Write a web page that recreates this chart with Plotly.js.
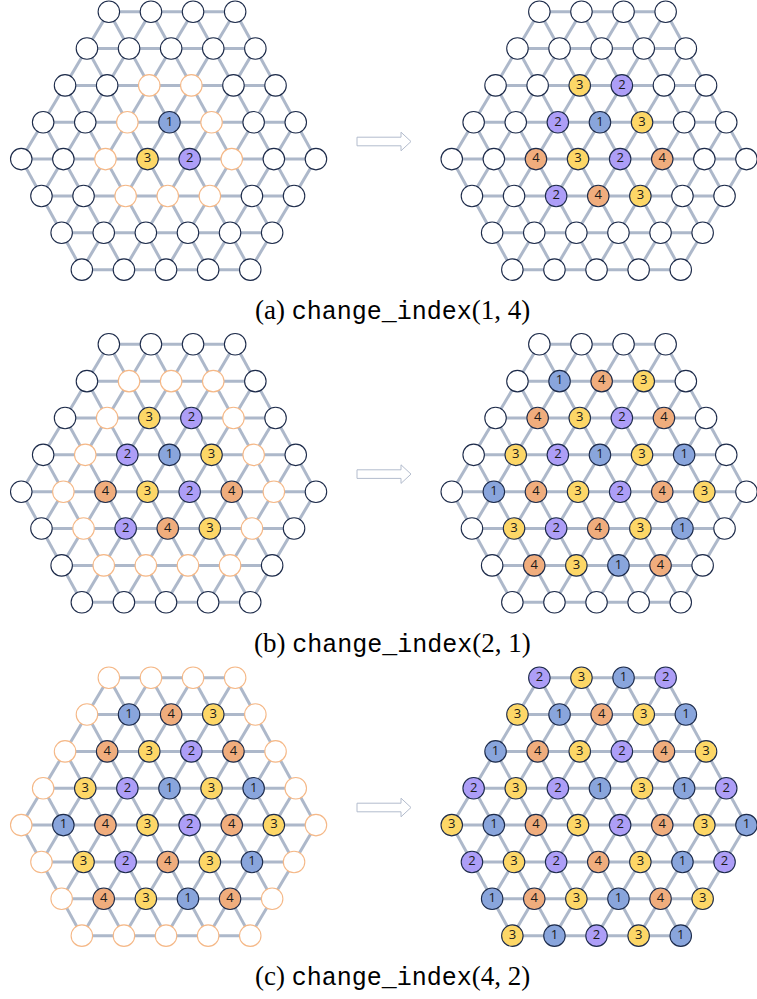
<!DOCTYPE html>
<html>
<head>
<meta charset="utf-8">
<script src="https://cdn.plot.ly/plotly-3.0.1.min.js"></script>
<style>html,body{margin:0;padding:0;background:#fff;}#chart{width:757px;height:999px;}</style>
</head>
<body>
<div id="chart"></div>
<script>
// ---- data: node states per row ('.' empty, 'o' highlighted empty, digit = index) ----
const ROW_SIZES = [4, 5, 6, 7, 8, 7, 6, 5];

const panelA_before = ["....", ".....", "..oo..", "..o1o..", "..o32o..", "..ooo..", "......", "....."];
const panelA_after  = ["....", ".....", "..32..", "..213..", "..4324..", "..243..", "......", "....."];

const panelB_before = ["....", ".ooo.", ".o32o.", ".o213o.", ".o4324o.", ".o243o.", ".oooo.", "....."];
const panelB_after  = ["....", ".143.", ".4324.", ".32131.", ".143243.", ".32431.", ".4314.", "....."];

const panelC_before = ["oooo", "o143o", "o4324o", "o32131o", "o143243o", "o32431o", "o4314o", "ooooo"];
const panelC_after  = ["2312", "31431", "143243", "2321312", "31432431", "2324312", "143143", "31231"];

const captionLetters = ["(a)", "(b)", "(c)"];
const captionCalls   = ["change_index", "change_index", "change_index"];
const captionArgs    = ["(1, 4)", "(2, 1)", "(4, 2)"];

// ---- styling ----
const FILL = {"1": "#89a5dc", "2": "#ad9ef7", "3": "#fdd767", "4": "#f0ad7d"};
const NAVY = "#1d2b4a";
const ORANGE_LINE = "#f5b887";
const EDGE = "#adb8ca";

const DX = 42.1, DY = 36.85, SHEAR = -0.85;
const LEFT_CX = 172, RIGHT_CX = 602.5;
const PANEL_Y0 = [11.7, 344.3, 677.7];

const panels = [
  [panelA_before, panelA_after],
  [panelB_before, panelB_after],
  [panelC_before, panelC_after]
];

function pos(cx, y0, r, i) {
  const n = ROW_SIZES[r];
  return [cx + SHEAR * r + (i - (n - 1) / 2) * DX, y0 + r * DY];
}

const traces = [];

function addLattice(rows, cx, y0) {
  // edges
  const ex = [], ey = [];
  function seg(a, b) {
    ex.push(a[0], b[0], null); ey.push(a[1], b[1], null);
  }
  for (let r = 0; r < ROW_SIZES.length; r++) {
    const n = ROW_SIZES[r];
    for (let i = 0; i < n; i++) {
      if (i + 1 < n) seg(pos(cx, y0, r, i), pos(cx, y0, r, i + 1));
      if (r + 1 < ROW_SIZES.length) {
        const m = ROW_SIZES[r + 1];
        if (m > n) {
          seg(pos(cx, y0, r, i), pos(cx, y0, r + 1, i));
          seg(pos(cx, y0, r, i), pos(cx, y0, r + 1, i + 1));
        } else {
          if (i - 1 >= 0) seg(pos(cx, y0, r, i), pos(cx, y0, r + 1, i - 1));
          if (i < m) seg(pos(cx, y0, r, i), pos(cx, y0, r + 1, i));
        }
      }
    }
  }
  traces.push({
    type: "scatter", mode: "lines", x: ex, y: ey,
    line: {color: EDGE, width: 3}, hoverinfo: "skip", cliponaxis: false
  });
  // nodes
  const nx = [], ny = [], fill = [], lc = [], lw = [], txt = [];
  rows.forEach((row, r) => {
    for (let i = 0; i < row.length; i++) {
      const ch = row[i];
      const p = pos(cx, y0, r, i);
      nx.push(p[0]); ny.push(p[1]);
      if (ch === ".") { fill.push("#ffffff"); lc.push(NAVY); lw.push(1.1); txt.push(""); }
      else if (ch === "o") { fill.push("#ffffff"); lc.push(ORANGE_LINE); lw.push(1.1); txt.push(""); }
      else { fill.push(FILL[ch]); lc.push(NAVY); lw.push(1.1); txt.push(ch); }
    }
  });
  traces.push({
    type: "scatter", mode: "markers+text", x: nx, y: ny, text: txt,
    textposition: "middle center",
    textfont: {family: "Open Sans", size: 13, color: "#1a1a1a"},
    marker: {size: 21.5, color: fill, line: {color: lc, width: lw}},
    hoverinfo: "skip", cliponaxis: false
  });
}

panels.forEach((pair, k) => {
  addLattice(pair[0], LEFT_CX, PANEL_Y0[k]);
  addLattice(pair[1], RIGHT_CX, PANEL_Y0[k]);
});

// arrows and captions
const shapes = [];
const annotations = [];
PANEL_Y0.forEach((y0, k) => {
  const ay = y0 + 129.8;
  const x0 = 357, xh = 401, xt = 411;
  const path = `M${x0},${ay - 4.3} L${xh},${ay - 4.3} L${xh},${ay - 9.3} L${xt},${ay} L${xh},${ay + 9.3} L${xh},${ay + 4.3} L${x0},${ay + 4.3} Z`;
  shapes.push({type: "path", xref: "x", yref: "y", path: path,
    line: {color: "#b3bccd", width: 1}, fillcolor: "#ffffff", layer: "above"});
  annotations.push({
    xref: "x", yref: "y", x: 392, y: y0 + 299.5, xanchor: "center", yanchor: "middle",
    showarrow: false,
    text: captionLetters[k] + " <span style=\"font-family:'Liberation Mono';font-size:25px\">" + captionCalls[k] + "</span>" + captionArgs[k],
    font: {family: "Liberation Serif", size: 27, color: "#000000"}
  });
});

const layout = {
  width: 757, height: 999,
  margin: {l: 0, r: 0, t: 0, b: 0, pad: 0},
  paper_bgcolor: "#ffffff", plot_bgcolor: "#ffffff",
  showlegend: false,
  xaxis: {range: [0, 757], visible: false, fixedrange: true},
  yaxis: {range: [999, 0], visible: false, fixedrange: true},
  shapes: shapes,
  annotations: annotations
};

Plotly.newPlot("chart", traces, layout, {displayModeBar: false, staticPlot: true});
</script>
</body>
</html>
